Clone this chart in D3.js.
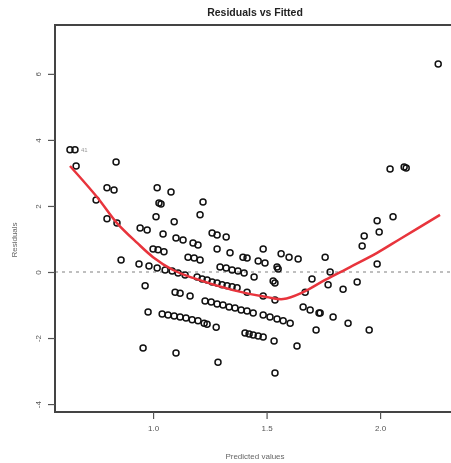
<!DOCTYPE html>
<html>
<head>
<meta charset="utf-8">
<script src="https://cdn.jsdelivr.net/npm/d3@7"></script>
<style>
  body { margin: 0; background: #fff; }
  svg { display: block; filter: blur(0.4px); font-family: "Liberation Sans", Arial, sans-serif; }
</style>
</head>
<body>
<svg width="451" height="463"></svg>
<script>
var fitted = [0.634, 0.656, 0.661, 0.837, 0.797, 0.828, 0.749, 0.797, 0.841, 0.859, 0.938, 0.982,
  1.018, 1.079, 1.026, 1.035, 1.013, 1.093, 1.220, 1.207, 0.943, 0.974, 1.044, 1.101, 1.132, 1.176, 1.198,
  1.260, 1.282, 1.322, 1.000, 1.022, 1.048, 1.282, 1.339, 1.154, 1.181, 1.207, 1.396, 1.414, 1.463, 1.493,
  1.485, 1.564, 1.599, 1.639, 1.546, 1.551, 1.018, 1.053, 1.084, 1.110, 1.141,
  1.295, 1.322, 1.348, 1.374, 1.401, 1.445, 1.529, 1.537, 0.965, 1.097, 1.119, 1.163,
  1.194, 1.216, 1.238, 1.260, 1.282, 1.304, 1.326, 1.348, 1.370, 1.414, 1.485, 1.537,
  1.229, 1.256, 1.282, 1.308, 1.335, 1.361, 1.388, 1.414, 1.441,
  1.485, 1.515, 1.546, 1.573, 1.604, 0.978,
  1.040, 1.066, 1.093, 1.119, 1.145, 1.172, 1.198, 1.225, 1.238, 1.278,
  1.405, 1.423, 1.441, 1.463, 1.485, 1.533, 1.634, 0.956, 1.101, 1.286, 1.537,
  1.661, 1.692, 1.731, 1.736, 1.793, 1.859, 1.718, 1.952, 1.670, 1.700, 1.758, 1.780, 1.771, 1.837, 1.899,
  1.921, 1.930, 1.987, 1.987, 1.996, 2.057, 2.044, 2.106, 2.115, 2.256];
var residuals = [3.70, 3.70, 3.21, 3.33, 2.55, 2.48, 2.18, 1.61, 1.48, 0.36, 0.24, 0.18,
  2.55, 2.42, 2.09, 2.06, 1.67, 1.52, 2.12, 1.73, 1.33, 1.27, 1.15, 1.03, 0.97, 0.88, 0.82,
  1.18, 1.12, 1.06, 0.70, 0.67, 0.61, 0.70, 0.58, 0.45, 0.42, 0.36, 0.45, 0.42, 0.33, 0.27,
  0.70, 0.55, 0.45, 0.39, 0.15, 0.09, 0.12, 0.06, 0.03, -0.03, -0.09,
  0.15, 0.12, 0.06, 0.03, -0.03, -0.15, -0.27, -0.33, -0.42, -0.61, -0.64, -0.73,
  -0.15, -0.21, -0.24, -0.30, -0.33, -0.39, -0.42, -0.45, -0.48, -0.61, -0.73, -0.85,
  -0.88, -0.91, -0.97, -1.00, -1.06, -1.09, -1.15, -1.18, -1.24,
  -1.30, -1.36, -1.42, -1.48, -1.55, -1.21,
  -1.27, -1.30, -1.33, -1.36, -1.39, -1.45, -1.48, -1.55, -1.58, -1.67,
  -1.85, -1.88, -1.91, -1.94, -1.97, -2.09, -2.24, -2.30, -2.45, -2.73, -3.06,
  -1.06, -1.15, -1.24, -1.24, -1.36, -1.55, -1.76, -1.76, -0.61, -0.21, 0.45, 0.00, -0.39, -0.52, -0.30,
  0.79, 1.09, 0.24, 1.55, 1.21, 1.67, 3.12, 3.18, 3.15, 6.30];

// smoother (red line)
var smoothX = [0.634, 0.753, 0.841, 0.930, 1.000, 1.088, 1.176, 1.352, 1.500, 1.573, 1.661, 1.758, 1.868, 1.987, 2.088, 2.264];
var smoothY = [3.21, 2.27, 1.48, 0.88, 0.45, 0.06, -0.18, -0.55, -0.76, -0.82, -0.61, -0.24, 0.15, 0.58, 1.00, 1.73];

var xTicks = [1.0, 1.5, 2.0];
var yTicks = [-4, -2, 0, 2, 4, 6];

// labelled extreme points
var outlierIdx = [0, 139];
var outlierText = ["41", "12"];

var svg = d3.select("svg");
var mLeft = 55, mTop = 25, mRight = 455, mBottom = 412;

var x = d3.scaleLinear().domain([0.568, 2.33]).range([mLeft, mRight]);
var y = d3.scaleLinear().domain([-4.24, 7.48]).range([mBottom, mTop]);

var grey = "#555";

svg.append("text")
    .attr("x", 255).attr("y", 16)
    .attr("text-anchor", "middle")
    .style("font-size", "10.5px").style("font-weight", "bold").style("fill", "#222")
    .text("Residuals vs Fitted");

// zero reference line
svg.append("line")
    .attr("x1", mLeft).attr("x2", mRight)
    .attr("y1", y(0)).attr("y2", y(0))
    .attr("stroke", "#aaa").attr("stroke-width", 1.3)
    .attr("stroke-dasharray", "3,4");

// points
svg.append("g").selectAll("circle")
    .data(fitted.map(function(d, i) { return [d, residuals[i]]; }))
    .enter().append("circle")
    .attr("cx", function(d) { return x(d[0]); })
    .attr("cy", function(d) { return y(d[1]); })
    .attr("r", 3)
    .attr("fill", "none")
    .attr("stroke", "#111")
    .attr("stroke-width", 1.5);

// outlier labels
outlierIdx.forEach(function(i, k) {
    var isRight = fitted[i] > 2;
    svg.append("text")
        .attr("x", x(fitted[i]) + (isRight ? -5 : 11))
        .attr("y", y(residuals[i]) + 2)
        .attr("text-anchor", isRight ? "end" : "start")
        .style("font-size", "6px").style("fill", "#999")
        .text(outlierText[k]);
});

// smooth line
svg.append("path")
    .datum(smoothX.map(function(d, i) { return [d, smoothY[i]]; }))
    .attr("fill", "none")
    .attr("stroke", "#e8343c")
    .attr("stroke-width", 2.5)
    .attr("d", d3.line()
        .x(function(d) { return x(d[0]); })
        .y(function(d) { return y(d[1]); })
        .curve(d3.curveCatmullRom));

// box
svg.append("rect")
    .attr("x", mLeft).attr("y", mTop)
    .attr("width", mRight - mLeft).attr("height", mBottom - mTop)
    .attr("fill", "none").attr("stroke", "#444").attr("stroke-width", 2);

// x axis
var xAxis = svg.append("g")
    .attr("transform", "translate(0," + mBottom + ")")
    .call(d3.axisBottom(x).tickValues(xTicks).tickSize(7).tickPadding(6).tickFormat(d3.format(".1f")));
xAxis.select(".domain").remove();
xAxis.selectAll("line").attr("stroke", grey).attr("stroke-width", 1.2);
xAxis.selectAll("text").style("font-size", "8px").style("fill", grey).style("font-family", "Liberation Sans, Arial, sans-serif");

// y axis
var yAxis = svg.append("g")
    .attr("transform", "translate(" + mLeft + ",0)")
    .call(d3.axisLeft(y).tickValues(yTicks).tickSize(7).tickFormat(d3.format("d")));
yAxis.select(".domain").remove();
yAxis.selectAll("line").attr("stroke", grey).attr("stroke-width", 1.2);
yAxis.selectAll("text")
    .attr("x", null).attr("dy", null)
    .attr("text-anchor", "middle")
    .attr("transform", "translate(-17,0) rotate(-90)")
    .attr("y", 3)
    .style("font-size", "8px").style("fill", grey).style("font-family", "Liberation Sans, Arial, sans-serif")
    .text(function(d) { return String(d); });

svg.append("text")
    .attr("transform", "translate(17,240) rotate(-90)")
    .attr("text-anchor", "middle")
    .style("font-size", "8px").style("fill", "#666")
    .text("Residuals");

svg.append("text")
    .attr("x", 255).attr("y", 459)
    .attr("text-anchor", "middle")
    .style("font-size", "8px").style("fill", "#666")
    .text("Predicted values");
</script>
</body>
</html>
